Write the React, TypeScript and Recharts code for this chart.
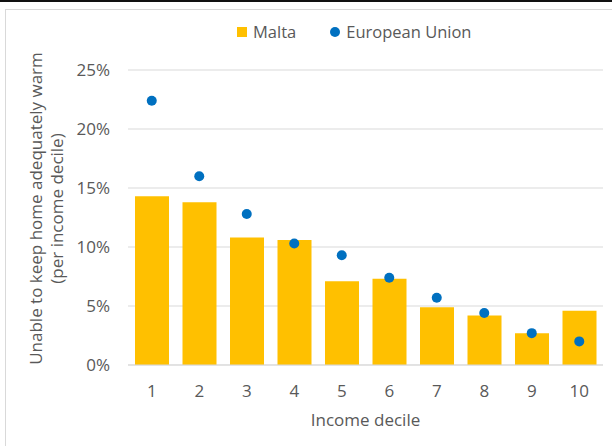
import React from 'react';
import { ComposedChart, Bar, Scatter, XAxis, YAxis, CartesianGrid, Legend } from 'recharts';

const deciles = ['1', '2', '3', '4', '5', '6', '7', '8', '9', '10'];
const maltaValues = [14.3, 13.8, 10.8, 10.6, 7.1, 7.3, 4.9, 4.2, 2.7, 4.6];
const euValues = [22.4, 16.0, 12.8, 10.3, 9.3, 7.4, 5.7, 4.4, 2.7, 2.0];
const yTicks = [0, 5, 10, 15, 20, 25];
const seriesNames = { malta: 'Malta', eu: 'European Union' };
const legendOrder = [seriesNames.malta, seriesNames.eu];
const xTitle = 'Income decile';
const yTitleLines = ['Unable to keep home adequately warm', '(per income decile)'];

const data = deciles.map((d, i) => ({ decile: d, malta: maltaValues[i], eu: euValues[i] }));

const FONT = '"Open Sans", sans-serif';
const TEXT = '#595959';
const GRID = '#d9d9d9';
const MALTA = '#FFC000';
const EU = '#0070C0';

const LegendContent = (props: any) => {
  const payload = [...(props.payload || [])].sort(
    (a: any, b: any) => legendOrder.indexOf(a.value) - legendOrder.indexOf(b.value)
  );
  return (
    <div style={{ display: 'flex', alignItems: 'center', height: 20, fontFamily: FONT, fontSize: 16.5, color: TEXT, whiteSpace: 'nowrap' }}>
      {payload.map((p: any, i: number) => (
        <div key={i} style={{ display: 'flex', alignItems: 'center', marginRight: i === 0 ? 34 : 0 }}>
          {p.type === 'circle' ? (
            <div style={{ width: 10, height: 10, borderRadius: 5, background: p.color, marginRight: 6 }} />
          ) : (
            <div style={{ width: 10, height: 10, background: p.color, marginRight: 6 }} />
          )}
          <span style={{ lineHeight: '20px' }}>{p.value}</span>
        </div>
      ))}
    </div>
  );
};

const YTitle = (props: any) => {
  const vb = props.viewBox || { x: 0, y: 70, width: 128, height: 295 };
  const cx = vb.x + 42;
  const cy = vb.y + vb.height / 2 - 9;
  return (
    <text
      transform={`rotate(-90, ${cx}, ${cy})`}
      x={cx}
      y={cy}
      textAnchor="middle"
      fontFamily={FONT}
      fontSize={17}
      fill={TEXT}
    >
      <tspan x={cx} dy={0}>{yTitleLines[0]}</tspan>
      <tspan x={cx} dy={21}>{yTitleLines[1]}</tspan>
    </text>
  );
};

const XTitle = (props: any) => {
  const vb = props.viewBox || { x: 128, y: 365, width: 475, height: 81 };
  return (
    <text x={vb.x + vb.width / 2} y={vb.y + 60.5} textAnchor="middle" fontFamily={FONT} fontSize={17} fill={TEXT}>
      {xTitle}
    </text>
  );
};

const Dot = (props: any) => {
  if (props.cx == null || props.cy == null) return null;
  return <circle cx={props.cx} cy={props.cy} r={5} fill={EU} />;
};

export default function App() {
  return (
    <div style={{ position: 'absolute', left: 0, top: 0, width: 612, height: 446, background: '#fff', overflow: 'hidden' }}>
      <div style={{ position: 'absolute', left: 0, top: 0, width: 612, height: 2, background: '#111' }} />
      <div style={{ position: 'absolute', left: 5, top: 9, width: 700, height: 500, border: `1px solid ${GRID}`, boxSizing: 'border-box' }} />
      <div style={{ position: 'absolute', left: 0, top: 0 }}>
        <ComposedChart
          width={612}
          height={446}
          data={data}
          margin={{ top: 50, right: 9, bottom: 0, left: 0 }}
          style={{ fontFamily: FONT }}
        >
          <CartesianGrid vertical={false} stroke={GRID} strokeWidth={1} />
          <XAxis
            dataKey="decile"
            height={81}
            axisLine={{ stroke: GRID }}
            tickLine={false}
            tickMargin={14}
            tick={{ fill: TEXT, fontSize: 17, fontFamily: FONT }}
            label={{ content: XTitle }}
          />
          <YAxis
            width={128}
            domain={[0, 25]}
            ticks={yTicks}
            interval={0}
            axisLine={false}
            tickLine={false}
            tickMargin={12}
            tickFormatter={(v: number) => `${v}%`}
            tick={{ fill: TEXT, fontSize: 17, fontFamily: FONT }}
            label={{ content: YTitle }}
          />
          <Legend
            verticalAlign="top"
            height={20}
            content={LegendContent}
            wrapperStyle={{ position: 'absolute', left: 237, top: 22, width: 'auto', height: 20 }}
          />
          <Bar dataKey="malta" name={seriesNames.malta} fill={MALTA} barSize={34} legendType="square" isAnimationActive={false} />
          <Scatter dataKey="eu" name={seriesNames.eu} fill={EU} shape={Dot} legendType="circle" isAnimationActive={false} />
        </ComposedChart>
      </div>
    </div>
  );
}
